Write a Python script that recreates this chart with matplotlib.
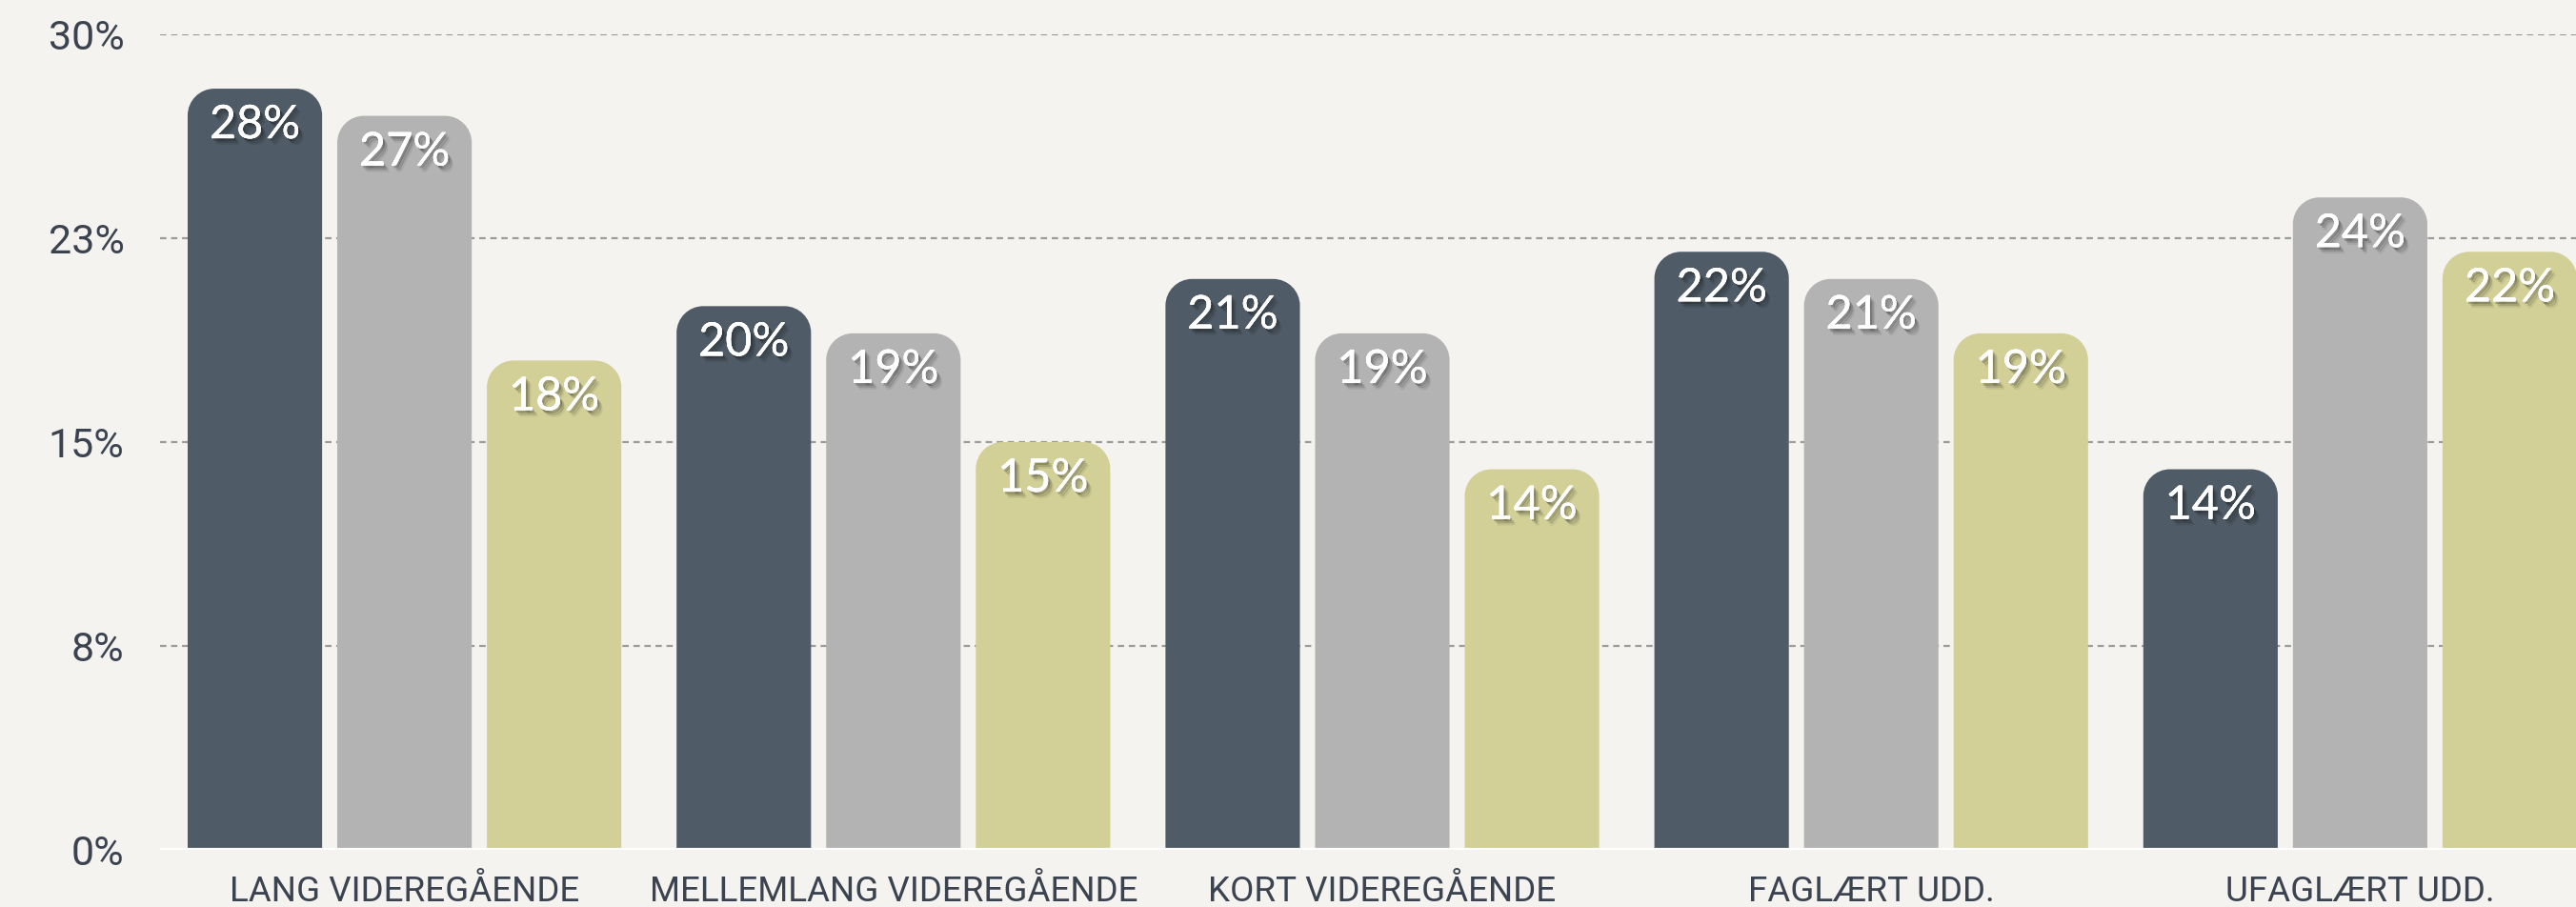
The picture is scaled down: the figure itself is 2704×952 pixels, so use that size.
import matplotlib

matplotlib.use("Agg")
import matplotlib.pyplot as plt
import matplotlib.patheffects as pe
import numpy as np
from matplotlib.path import Path
from matplotlib.patches import PathPatch

plt.rcParams["font.family"] = ["Roboto", "DejaVu Sans"]

categories = ["LANG VIDEREGÅENDE", "MELLEMLANG VIDEREGÅENDE", "KORT VIDEREGÅENDE",
              "FAGLÆRT UDD.", "UFAGLÆRT UDD."]
series_a = [0.28, 0.20, 0.21, 0.22, 0.14]
series_b = [0.27, 0.19, 0.19, 0.21, 0.24]
series_c = [0.18, 0.15, 0.14, 0.19, 0.22]
ytick_vals = [0.0, 0.075, 0.15, 0.225, 0.30]
ytick_labels = ["0%", "8%", "15%", "23%", "30%"]

colors = ["#4f5b66", "#b3b3b3", "#d2d097"]
bg = "#f4f3ef"
txt = "#3b4350"

W, H = 2704, 952
AX_W = 2566
fig = plt.figure(figsize=(W / 100, H / 100), dpi=100, facecolor=bg)
ax = fig.add_axes([168 / W, 60 / H, AX_W / W, 856 / H], facecolor=bg)
ax.set_xlim(-0.5, len(categories) - 0.5)
ax.set_ylim(0, 0.30)

for s in ax.spines.values():
    s.set_visible(False)
ax.set_yticks(ytick_vals)
ax.set_yticklabels(ytick_labels, fontsize=31, color=txt)
ax.set_xticks(np.arange(len(categories)))
ax.set_xticklabels(categories, fontsize=26.5, color=txt)
ax.tick_params(axis="y", length=0, pad=27)
ax.tick_params(axis="x", length=0, pad=19)
for v in ytick_vals[1:]:
    ax.axhline(v, color="#9c9c9c", lw=1.6, ls=(0, (3, 2.2)), zorder=1)
ax.axhline(0, color="white", lw=3, zorder=4)

# corner radius in data units (28 px)
px_x = AX_W / len(categories)
px_y = 856 / 0.30
rx, ry = 28 / px_x, 28 / px_y
k = 0.5523


def rounded_bar(x0, w, h, color):
    x1 = x0 + w
    verts = [(x0, 0), (x0, h - ry),
             (x0, h - ry + k * ry), (x0 + rx - k * rx, h), (x0 + rx, h),
             (x1 - rx, h),
             (x1 - rx + k * rx, h), (x1, h - ry + k * ry), (x1, h - ry),
             (x1, 0), (x0, 0)]
    codes = [Path.MOVETO, Path.LINETO,
             Path.CURVE4, Path.CURVE4, Path.CURVE4,
             Path.LINETO,
             Path.CURVE4, Path.CURVE4, Path.CURVE4,
             Path.LINETO, Path.CLOSEPOLY]
    ax.add_patch(PathPatch(Path(verts, codes), facecolor=color, edgecolor="none", zorder=3))


shadow = [pe.withSimplePatchShadow(offset=(1.5, -2), shadow_rgbFace="black", alpha=0.22),
          pe.withSimplePatchShadow(offset=(3, -3.5), shadow_rgbFace="black", alpha=0.14),
          pe.withSimplePatchShadow(offset=(4, -5), shadow_rgbFace="black", alpha=0.07),
          pe.Normal()]

x = np.arange(len(categories))
width, step = 0.275, 0.306
for i, (vals, col) in enumerate(zip([series_a, series_b, series_c], colors)):
    bars = ax.bar(x + (i - 1) * step, vals, width, color=col, visible=False)
    for b, v in zip(bars, vals):
        rounded_bar(b.get_x(), b.get_width(), b.get_height(), col)
        ax.annotate(f"{v * 100:.0f}%", (b.get_x() + b.get_width() / 2, v),
                    xytext=(0, -38), textcoords="offset pixels",
                    ha="center", va="center", fontsize=35, color="white",
                    family=["Lato", "DejaVu Sans"],
                    zorder=5, path_effects=shadow)

fig.savefig("out.png", dpi=100, facecolor=bg)
